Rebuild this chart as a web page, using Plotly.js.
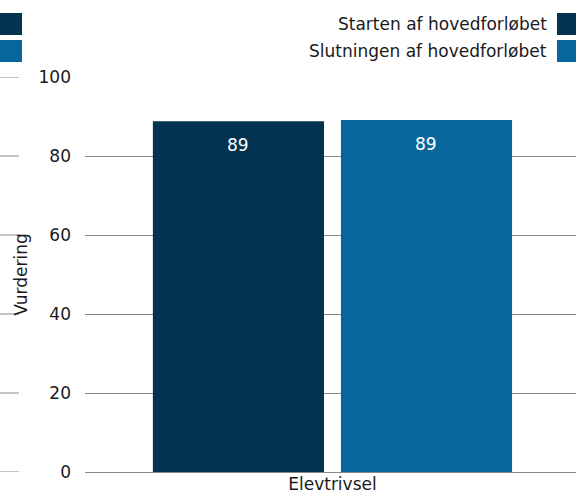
<!DOCTYPE html>
<html>
<head>
<meta charset="utf-8">
<script src="https://cdn.plot.ly/plotly-3.0.1.min.js"></script>
<style>html,body{margin:0;padding:0;background:#fff;}#chart{width:576px;height:500px;}</style>
</head>
<body>
<div id="chart"></div>
<script>
var categories = ["Elevtrivsel"];
var seriesNames = ["Starten af hovedforløbet", "Slutningen af hovedforløbet"];
var seriesValues = [[88.8], [89.1]];
var seriesColors = ["#023452", "#07669b"];
var yTickValues = [0, 20, 40, 60, 80, 100];
var yTitle = "Vurdering";

var FONT = "DejaVu Sans, Verdana, sans-serif";
var W = 576, H = 500, L = 85, R = 0, T = 77, B = 28;
var plotW = W - L - R;
function px2paperX(p) { return (p - L) / plotW; }
function px2paperY(p) { return 1 - (p - T) / (H - T - B); }

var traces = seriesNames.map(function (name, i) {
  return {
    type: "bar",
    name: name,
    x: categories,
    y: seriesValues[i],
    marker: { color: seriesColors[i] },
    hoverinfo: "none",
    showlegend: false
  };
});

var shapes = [];
var annotations = [];

// left gridline stubs
yTickValues.forEach(function (v) {
  shapes.push({ type: "line", xref: "paper", yref: "y", x0: px2paperX(0), x1: px2paperX(19), y0: v, y1: v,
    line: { color: "#8a8a8a", width: 1 } });
});

// legend (text right, square on right edge), plus cropped squares at left edge
seriesNames.forEach(function (name, i) {
  var top = 13 + i * 27, bot = top + 22;
  shapes.push({ type: "rect", xref: "paper", yref: "paper", x0: px2paperX(557), x1: px2paperX(578),
    y0: px2paperY(bot), y1: px2paperY(top), fillcolor: seriesColors[i], line: { width: 0 } });
  shapes.push({ type: "rect", xref: "paper", yref: "paper", x0: px2paperX(-2), x1: px2paperX(22),
    y0: px2paperY(bot), y1: px2paperY(top), fillcolor: seriesColors[i], line: { width: 0 } });
  annotations.push({ xref: "paper", yref: "paper", x: px2paperX(549), y: px2paperY((top + bot) / 2),
    xanchor: "right", yanchor: "middle", showarrow: false, text: name,
    font: { family: FONT, size: 17, color: "#1a1a1a" } });
});

// value labels inside bars
seriesNames.forEach(function (name, i) {
  categories.forEach(function (c, j) {
    annotations.push({ xref: "x", yref: "y", x: c, y: seriesValues[i][j], xshift: (i === 0 ? -94 : 94), yshift: -24,
      xanchor: "center", yanchor: "middle", showarrow: false, text: Math.round(seriesValues[i][j]).toString(),
      font: { family: FONT, size: 17, color: "#ffffff" } });
  });
});

var layout = {
  width: W, height: H,
  margin: { l: L, r: R, t: T, b: B, pad: 0 },
  paper_bgcolor: "#ffffff", plot_bgcolor: "#ffffff",
  font: { family: FONT, size: 17, color: "#1a1a1a" },
  barmode: "group",
  bargap: 0.234,
  bargroupgap: 0.09,
  showlegend: false,
  xaxis: {
    type: "category",
    range: [-0.504, 0.496],
    showgrid: false, zeroline: false, showline: false, ticks: "",
    tickfont: { family: FONT, size: 17, color: "#1a1a1a" },
    automargin: false
  },
  yaxis: {
    range: [0, 100],
    tickvals: yTickValues,
    showgrid: true, gridcolor: "#8a8a8a", gridwidth: 1,
    zeroline: true, zerolinecolor: "#8a8a8a", zerolinewidth: 1,
    showline: false, ticks: "",
    ticklabelstandoff: 13,
    tickfont: { family: FONT, size: 17, color: "#1a1a1a" },
    title: { text: yTitle, font: { family: FONT, size: 17, color: "#1a1a1a" }, standoff: 6 },
    automargin: false
  },
  shapes: shapes,
  annotations: annotations
};

Plotly.newPlot("chart", traces, layout, { displayModeBar: false, staticPlot: true });
</script>
</body>
</html>
